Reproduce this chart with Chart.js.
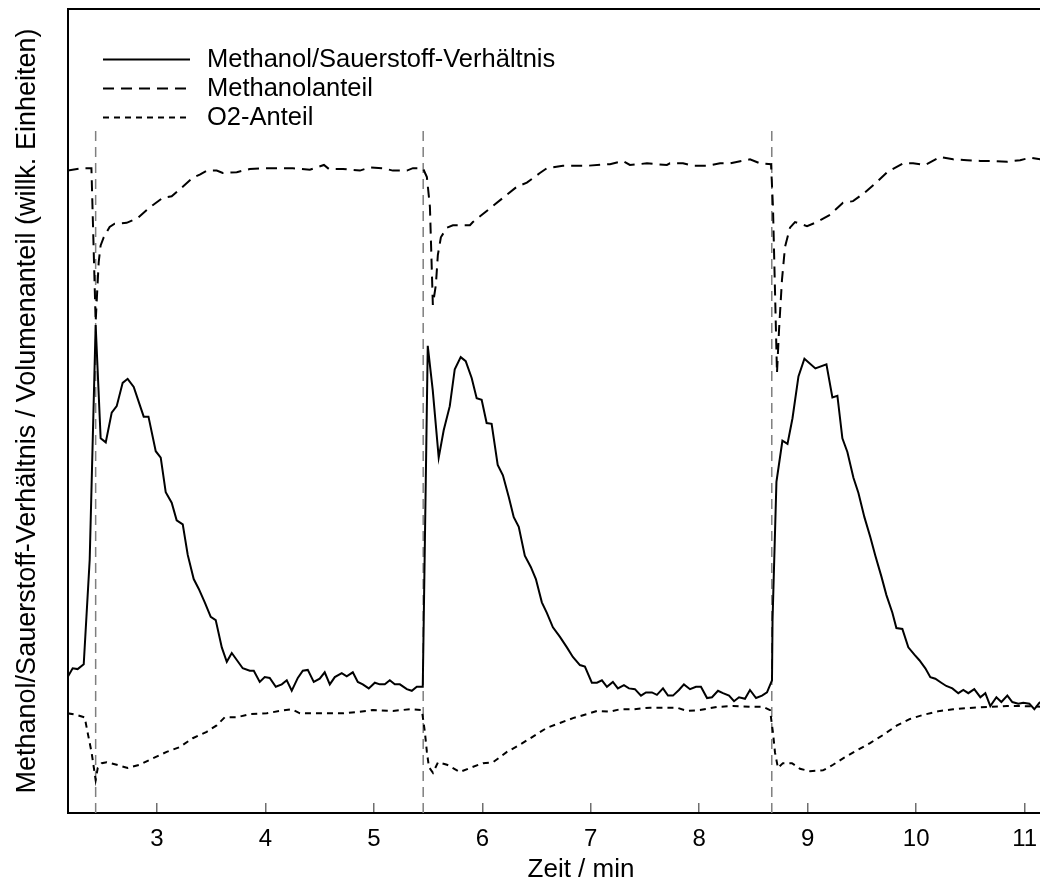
<!DOCTYPE html>
<html>
<head>
<meta charset="utf-8">
<script src="https://cdn.jsdelivr.net/npm/chart.js@4/dist/chart.umd.min.js"></script>
<style>
  html, body { margin: 0; padding: 0; background: #fff; overflow: hidden; }
</style>
</head>
<body>
<canvas id="myChart" width="1094" height="888"></canvas>
<script>
// time in minutes, signal in arbitrary units (0..100)
const ratioTime = [
  2.177, 2.223, 2.269, 2.325, 2.380, 2.435, 2.481, 2.528, 2.583, 2.629,
  2.684, 2.730, 2.786, 2.878, 2.922, 2.989, 3.035, 3.081, 3.136, 3.182,
  3.238, 3.284, 3.339, 3.385, 3.441, 3.496, 3.542, 3.598, 3.644, 3.690,
  3.791, 3.856, 3.893, 3.948, 3.994, 4.040, 4.096, 4.151, 4.197, 4.243,
  4.299, 4.345, 4.391, 4.446, 4.501, 4.547, 4.594, 4.640, 4.704, 4.750,
  4.806, 4.852, 4.898, 4.953, 5.009, 5.055, 5.101, 5.147, 5.193, 5.240,
  5.304, 5.350, 5.396, 5.451, 5.497, 5.543, 5.598, 5.644, 5.700, 5.746,
  5.801, 5.847, 5.902, 5.948, 5.994, 6.040, 6.086, 6.142, 6.190, 6.244,
  6.290, 6.336, 6.392, 6.447, 6.494, 6.549, 6.595, 6.651, 6.716, 6.780,
  6.835, 6.900, 6.946, 7.010, 7.057, 7.103, 7.149, 7.204, 7.250, 7.306,
  7.352, 7.407, 7.463, 7.509, 7.564, 7.610, 7.666, 7.712, 7.758, 7.813,
  7.859, 7.915, 7.970, 8.016, 8.072, 8.118, 8.173, 8.219, 8.275, 8.321,
  8.367, 8.422, 8.468, 8.524, 8.579, 8.625, 8.671, 8.676, 8.712, 8.767,
  8.814, 8.860, 8.915, 8.970, 9.071, 9.173, 9.228, 9.274, 9.320, 9.366,
  9.422, 9.468, 9.523, 9.578, 9.624, 9.680, 9.726, 9.781, 9.818, 9.873,
  9.928, 9.984, 10.030, 10.085, 10.131, 10.177, 10.232, 10.278, 10.334, 10.389,
  10.435, 10.481, 10.536, 10.592, 10.638, 10.684, 10.740, 10.786, 10.841, 10.887,
  10.942, 10.988, 11.044, 11.090, 11.136, 11.190
];
const ratioValue = [
  16.9, 18.0, 17.9, 18.5, 31.5, 60.7, 46.6, 46.1, 49.8, 50.6,
  53.5, 54.0, 53.0, 49.3, 49.3, 45.0, 44.2, 39.9, 38.6, 36.4,
  35.9, 32.1, 29.1, 27.9, 26.2, 24.4, 24.0, 20.6, 18.8, 19.9,
  18.0, 17.7, 17.7, 16.3, 16.9, 16.8, 15.7, 16.0, 16.5, 15.2,
  16.8, 17.7, 17.8, 16.3, 16.7, 17.5, 16.0, 16.9, 17.4, 17.0,
  17.5, 16.3, 16.0, 15.5, 16.2, 16.0, 16.0, 16.5, 16.0, 16.0,
  15.4, 15.2, 15.7, 15.7, 58.1, 52.6, 44.2, 47.6, 50.6, 55.2,
  56.7, 56.2, 54.1, 51.6, 51.4, 48.5, 48.4, 43.3, 42.0, 39.3,
  36.8, 35.6, 32.0, 30.6, 29.1, 26.2, 24.9, 23.1, 21.9, 20.6,
  19.4, 18.4, 18.2, 16.2, 16.2, 16.5, 15.7, 16.3, 15.5, 15.9,
  15.5, 15.4, 14.6, 15.0, 15.0, 14.7, 15.5, 14.6, 14.6, 15.3,
  16.0, 15.4, 15.7, 15.7, 14.3, 14.4, 15.2, 14.9, 14.6, 13.9,
  14.4, 14.2, 15.3, 14.3, 14.6, 15.0, 16.5, 24.0, 41.2, 46.3,
  45.9, 49.1, 54.3, 56.5, 55.3, 55.8, 51.7, 51.9, 46.6, 44.9,
  41.7, 39.8, 36.8, 34.3, 32.0, 29.4, 27.1, 24.9, 23.0, 22.9,
  20.6, 19.7, 19.0, 18.0, 16.9, 16.7, 16.2, 15.8, 15.5, 14.9,
  15.3, 14.9, 15.4, 14.4, 14.9, 13.3, 14.4, 13.8, 14.6, 13.8,
  13.6, 13.7, 13.6, 12.9, 13.7, 14.1
];

const methanolTime = [
  2.177, 2.315, 2.396, 2.435, 2.463, 2.481, 2.509, 2.564, 2.610, 2.721,
  2.822, 2.906, 2.961, 3.053, 3.136, 3.238, 3.330, 3.395, 3.459, 3.551,
  3.607, 3.736, 3.856, 3.976, 4.133, 4.253, 4.410, 4.540, 4.586, 4.715,
  4.872, 4.964, 5.083, 5.176, 5.305, 5.360, 5.452, 5.489, 5.517, 5.544,
  5.572, 5.590, 5.618, 5.673, 5.729, 5.886, 5.913, 6.070, 6.190, 6.319,
  6.411, 6.531, 6.596, 6.743, 6.965, 7.177, 7.297, 7.361, 7.518, 7.702,
  7.730, 7.850, 7.942, 8.072, 8.192, 8.284, 8.468, 8.561, 8.662, 8.680,
  8.717, 8.736, 8.763, 8.791, 8.837, 8.883, 8.994, 9.086, 9.206, 9.326,
  9.418, 9.529, 9.640, 9.732, 9.880, 9.972, 10.083, 10.221, 10.341, 10.470,
  10.590, 10.710, 10.839, 10.959, 11.051, 11.198
];
const methanolValue = [
  79.9, 80.2, 80.2, 61.1, 68.5, 70.6, 71.6, 72.9, 73.3, 73.4,
  74.0, 75.0, 75.6, 76.5, 76.7, 77.9, 79.0, 79.4, 79.9, 79.9,
  79.6, 79.7, 80.1, 80.2, 80.2, 80.2, 80.0, 80.6, 80.1, 80.1,
  79.9, 80.3, 80.2, 79.9, 79.9, 80.2, 80.2, 79.1, 75.4, 63.2,
  65.7, 69.4, 71.6, 72.8, 73.1, 73.1, 73.5, 75.2, 76.5, 77.9,
  78.4, 79.6, 80.2, 80.5, 80.5, 80.7, 81.1, 80.6, 80.8, 80.6,
  80.8, 80.8, 80.5, 80.5, 80.8, 80.8, 81.3, 80.8, 80.7, 75.4,
  54.7, 60.1, 66.3, 70.4, 72.8, 73.5, 73.0, 73.5, 74.4, 75.9,
  76.1, 77.2, 78.5, 79.7, 80.8, 80.8, 80.6, 81.6, 81.3, 81.2,
  81.1, 81.1, 81.0, 81.2, 81.5, 81.2
];

const o2Time = [
  2.177, 2.260, 2.334, 2.361, 2.398, 2.435, 2.454, 2.491, 2.537, 2.629,
  2.730, 2.841, 2.961, 3.090, 3.210, 3.330, 3.459, 3.551, 3.625, 3.736,
  3.856, 4.013, 4.133, 4.244, 4.318, 4.438, 4.567, 4.715, 4.871, 4.991,
  5.176, 5.333, 5.443, 5.471, 5.489, 5.508, 5.545, 5.591, 5.674, 5.794,
  5.886, 6.006, 6.098, 6.227, 6.347, 6.467, 6.596, 6.716, 6.836, 6.965,
  7.057, 7.177, 7.269, 7.389, 7.546, 7.703, 7.795, 7.887, 8.007, 8.164,
  8.311, 8.468, 8.588, 8.653, 8.680, 8.699, 8.726, 8.772, 8.855, 8.929,
  9.022, 9.141, 9.234, 9.326, 9.455, 9.575, 9.695, 9.824, 9.944, 10.064,
  10.221, 10.341, 10.525, 10.682, 10.839, 10.987, 11.199
];
const o2Value = [
  12.4, 12.2, 11.9, 10.0, 7.5, 4.1, 5.6, 6.2, 6.3, 6.0,
  5.6, 6.0, 6.8, 7.6, 8.2, 9.3, 10.1, 10.9, 11.9, 11.9,
  12.3, 12.4, 12.7, 12.9, 12.4, 12.4, 12.4, 12.4, 12.6, 12.8,
  12.7, 12.9, 12.8, 10.0, 7.6, 5.7, 5.0, 6.3, 6.0, 5.1,
  5.6, 6.2, 6.3, 7.6, 8.5, 9.5, 10.6, 11.2, 11.8, 12.3,
  12.7, 12.6, 12.9, 12.9, 13.1, 13.1, 13.1, 12.7, 12.8, 13.2,
  13.3, 13.2, 13.2, 12.8, 10.0, 7.5, 5.6, 6.2, 6.2, 5.5,
  5.2, 5.3, 6.0, 6.8, 7.8, 8.7, 9.7, 10.9, 11.7, 12.2,
  12.7, 12.9, 13.1, 13.2, 13.3, 13.3, 13.2
];

// switching times (gray dashed markers)
const markerTimes = [2.435, 5.455, 8.669];
const markerTop = 85.2;

const xMin = 2.18;
const xMax = 11.64;

const toPoints = (times, values) => times.map((t, i) => ({ x: t, y: values[i] }));

const markerPoints = markerTimes.flatMap((t) => [
  { x: t, y: 0 },
  { x: t, y: markerTop },
  { x: t, y: null }
]);

const insideLegend = {
  id: "insideLegend",
  afterDatasetsDraw(chart) {
    const { ctx, chartArea } = chart;
    ctx.save();
    ctx.font = '25.5px "Liberation Sans", Arial, sans-serif';
    ctx.textBaseline = "middle";
    ctx.textAlign = "left";
    chart.data.datasets.slice(0, 3).forEach((ds, i) => {
      const y = chartArea.top + 50.5 + i * 29;
      ctx.strokeStyle = ds.borderColor;
      ctx.lineWidth = ds.borderWidth;
      ctx.setLineDash(ds.borderDash || []);
      ctx.beginPath();
      ctx.moveTo(chartArea.left + 35, y);
      ctx.lineTo(chartArea.left + 122, y);
      ctx.stroke();
      ctx.setLineDash([]);
      ctx.fillStyle = "#000";
      ctx.fillText(ds.label, chartArea.left + 139, y);
    });
    ctx.restore();
  }
};

Chart.defaults.font.family = '"Liberation Sans", Arial, sans-serif';
Chart.defaults.color = "#000";

const ctx = document.getElementById("myChart").getContext("2d");

new Chart(ctx, {
  type: "line",
  data: {
    datasets: [
      {
        label: "Methanol/Sauerstoff-Verhältnis",
        data: toPoints(ratioTime, ratioValue),
        borderColor: "#000",
        borderWidth: 2,
        borderDash: []
      },
      {
        label: "Methanolanteil",
        data: toPoints(methanolTime, methanolValue),
        borderColor: "#000",
        borderWidth: 2,
        borderDash: [11, 7]
      },
      {
        label: "O2-Anteil",
        data: toPoints(o2Time, o2Value),
        borderColor: "#000",
        borderWidth: 2,
        borderDash: [6, 5]
      },
      {
        label: "Umschaltung",
        data: markerPoints,
        borderColor: "#7f7f7f",
        borderWidth: 1.5,
        borderDash: [10, 6],
        spanGaps: false
      }
    ]
  },
  options: {
    responsive: false,
    animation: false,
    devicePixelRatio: 1,
    layout: { padding: 0 },
    elements: {
      point: { radius: 0 },
      line: { tension: 0, fill: false, borderCapStyle: "butt" }
    },
    plugins: {
      legend: { display: false },
      tooltip: { enabled: false }
    },
    scales: {
      x: {
        type: "linear",
        position: "bottom",
        min: xMin,
        max: xMax,
        afterFit: (scale) => { scale.height = 75; },
        grid: {
          display: true,
          drawOnChartArea: false,
          drawTicks: true,
          tickLength: -10,
          color: "#6e6e6e",
          lineWidth: 1.5
        },
        border: { display: true, color: "#000", width: 2 },
        ticks: {
          stepSize: 1,
          includeBounds: false,
          maxRotation: 0,
          autoSkip: false,
          padding: 22,
          font: { size: 24 }
        },
        title: {
          display: true,
          text: "Zeit / min",
          font: { size: 26 },
          padding: { top: 0, bottom: 3 }
        }
      },
      xTop: {
        type: "linear",
        position: "top",
        min: xMin,
        max: xMax,
        afterFit: (scale) => { scale.height = 9; },
        grid: { display: false },
        border: { display: true, color: "#000", width: 2 },
        ticks: { display: false }
      },
      y: {
        type: "linear",
        position: "left",
        min: 0,
        max: 100,
        afterFit: (scale) => { scale.width = 68; },
        grid: { display: false },
        border: { display: true, color: "#000", width: 2 },
        ticks: { display: false },
        title: {
          display: true,
          text: "Methanol/Sauerstoff-Verhältnis / Volumenanteil (willk. Einheiten)",
          font: { size: 27 },
          padding: { top: 11, bottom: 0 }
        }
      }
    }
  },
  plugins: [insideLegend]
});
</script>
</body>
</html>
